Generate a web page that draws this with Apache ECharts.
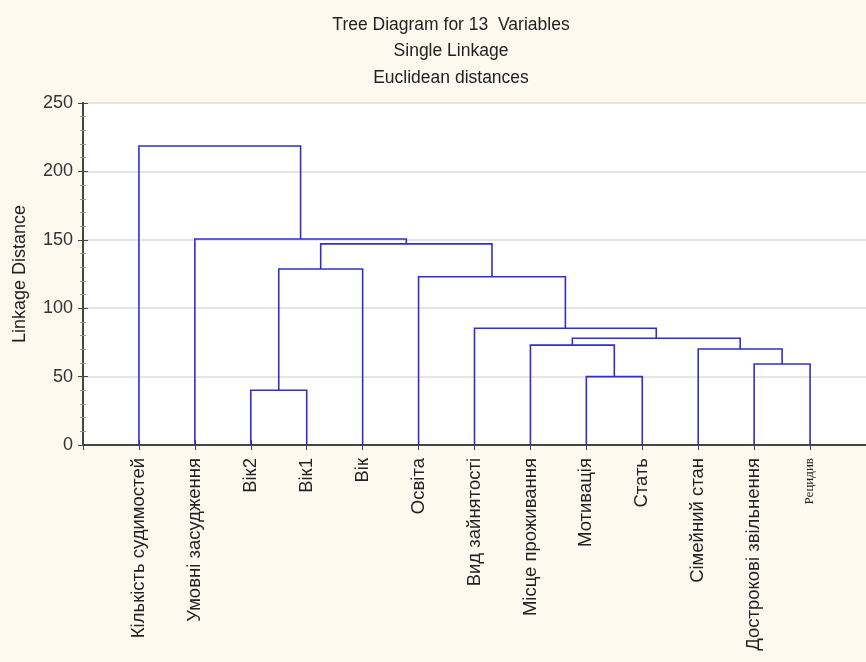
<!DOCTYPE html>
<html>
<head>
<meta charset="utf-8">
<script src="https://cdn.jsdelivr.net/npm/echarts@6/dist/echarts.min.js"></script>
<style>
html,body{margin:0;padding:0;background:#fdf9ef;}
#c{width:866px;height:662px;}
</style>
</head>
<body>
<div id="c"></div>
<script>
// Leaf labels in dendrogram order
const labels = ['Кількість судимостей','Умовні засудження','Вік2','Вік1','Вік','Освіта','Вид зайнятості','Місце проживання','Мотивація','Стать','Сімейний стан','Дострокові звільнення','Рецидив'];
// Merges: [childA, childB, linkage distance]; leaves 0..12, clusters 13+
const merges = [
  [2, 3, 40],
  [8, 9, 50],
  [11, 12, 59.2],
  [10, 15, 70.2],
  [7, 14, 73],
  [17, 16, 78],
  [6, 18, 85.3],
  [5, 19, 123],
  [13, 4, 128.7],
  [21, 20, 147],
  [1, 22, 150.6],
  [0, 23, 218.6]
];
const yTicks = [0, 50, 100, 150, 200, 250];
const titleLines = ['Tree Diagram for 13  Variables', 'Single Linkage', 'Euclidean distances'];

// Build node positions from merges
const nodeX = labels.map((_, i) => i + 1);
const nodeY = labels.map(() => 0);
const segs = [];
merges.forEach(m => {
  const [a, b, h] = m;
  segs.push([nodeX[a], nodeY[a], nodeX[b], nodeY[b], h]);
  nodeX.push((nodeX[a] + nodeX[b]) / 2);
  nodeY.push(h);
});

const chart = echarts.init(document.getElementById('c'));
const font = 'Liberation Sans, Arial, sans-serif';
chart.setOption({
  backgroundColor: '#fdf9ef',
  animation: false,
  title: titleLines.map((t, i) => ({
    text: t, left: 446, top: 11 + i * 26.5, textAlign: 'center',
    textStyle: {fontFamily: font, fontSize: 17.5, fontWeight: 'normal', color: '#222'}
  })),
  grid: {left: 83, top: 103, width: 785, height: 342, show: true, backgroundColor: '#ffffff', borderWidth: 0},
  xAxis: [{
    type: 'value', min: 0, max: 14, interval: 1, position: 'bottom',
    axisLine: {onZero: false, lineStyle: {color: '#444', width: 2}},
    axisTick: {inside: true, length: 5, lineStyle: {color: '#444'}},
    splitLine: {show: false},
    axisLabel: {
      rotate: 90, margin: 13, fontFamily: font, fontSize: 18.5, color: '#222',
      formatter: v => {
        const l = labels[v - 1];
        if (!l) return '';
        return l === 'Рецидив' ? '{s|' + l + '}' : l;
      },
      rich: {s: {fontFamily: 'Liberation Serif, Times New Roman, serif', fontSize: 13, color: '#222'}}
    }
  }, {
    type: 'value', min: 0, max: 14, interval: 1, position: 'top',
    axisLine: {lineStyle: {color: '#444', width: 2}},
    axisTick: {inside: true, length: 5, lineStyle: {color: '#444'}},
    axisLabel: {show: false}, splitLine: {show: false}
  }],
  yAxis: [{
    type: 'value', min: 0, max: 250, interval: 50,
    name: 'Linkage Distance', nameLocation: 'middle', nameGap: 54,
    nameTextStyle: {fontFamily: font, fontSize: 18, color: '#222'},
    axisLine: {show: true, lineStyle: {color: '#444', width: 2}},
    axisTick: {show: true, inside: true, length: 5, lineStyle: {color: '#444'}},
    minorTick: {show: true, splitNumber: 5, length: 3, lineStyle: {color: '#999'}},
    axisLabel: {fontFamily: font, fontSize: 18, color: '#333', margin: 10,
      formatter: v => yTicks.includes(v) ? String(v) : ''},
    splitLine: {show: true, lineStyle: {color: '#dcdcdc', width: 1.5}}
  }, {
    type: 'value', min: 0, max: 250, interval: 50, position: 'right',
    axisLine: {show: true, lineStyle: {color: '#444', width: 2}},
    axisTick: {show: true, inside: true, length: 5, lineStyle: {color: '#444'}},
    minorTick: {show: true, splitNumber: 5, length: 3, lineStyle: {color: '#999'}},
    axisLabel: {show: false}, splitLine: {show: false}
  }],
  series: [{
    type: 'custom',
    coordinateSystem: 'cartesian2d',
    data: segs,
    encode: {x: [0, 2], y: [1, 3, 4]},
    renderItem: (params, api) => {
      const xl = api.value(0), yl = api.value(1), xr = api.value(2), yr = api.value(3), h = api.value(4);
      return {
        type: 'polyline',
        shape: {points: [api.coord([xl, yl]), api.coord([xl, h]), api.coord([xr, h]), api.coord([xr, yr])]},
        style: {stroke: '#3030c8', lineWidth: 1.6, fill: null}
      };
    }
  }]
});
</script>
</body>
</html>
